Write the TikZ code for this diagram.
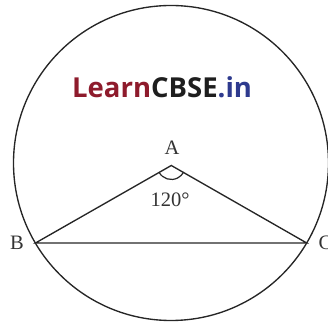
\documentclass[tikz,border=0pt]{standalone}
\usepackage{fontspec}
\usetikzlibrary{calc}
\setmainfont{Liberation Serif}
\newfontfamily\logofont{Open Sans}
\definecolor{learnred}{HTML}{8E1B2C}
\definecolor{cbseblack}{HTML}{1E1E1E}
\definecolor{inblue}{HTML}{2E3A8E}
\begin{document}
\begin{tikzpicture}[x=1pt,y=1pt,
  edge/.style={line width=1.35pt, black!85},
  lbl/.style={font=\fontsize{20.5}{20.5}\selectfont, text=black!80, inner sep=0pt}]
\useasboundingbox (0,0) rectangle (327,328);
\node[draw, edge, circle, minimum size=315pt, inner sep=0pt] (circ) at (171,165) {};
\coordinate (A) at (171.3,162.5);
\coordinate (B) at (35.5,85);
\coordinate (C) at (306.7,85);
\draw[edge] (B) -- (A) -- (C) -- cycle;
\draw[line width=1.2pt, black!85] ($(A)+(208:14)$) arc[start angle=208, end angle=332, radius=14pt];
\node[lbl] (la) at (172,180.5) {A};
\node[lbl] (lb) at (17,85) {B};
\node[lbl, anchor=west] (lc) at (318.5,85) {C};
\node[lbl] (ang) at (170,128) {120°};
\node[anchor=base west, inner sep=0pt, font=\logofont\bfseries\fontsize{27.5}{27.5}\selectfont] (logo) at (72,230)
  {\textcolor{learnred}{Learn}\textcolor{cbseblack}{CBSE}\textcolor{inblue}{.in}};
\end{tikzpicture}
\end{document}
